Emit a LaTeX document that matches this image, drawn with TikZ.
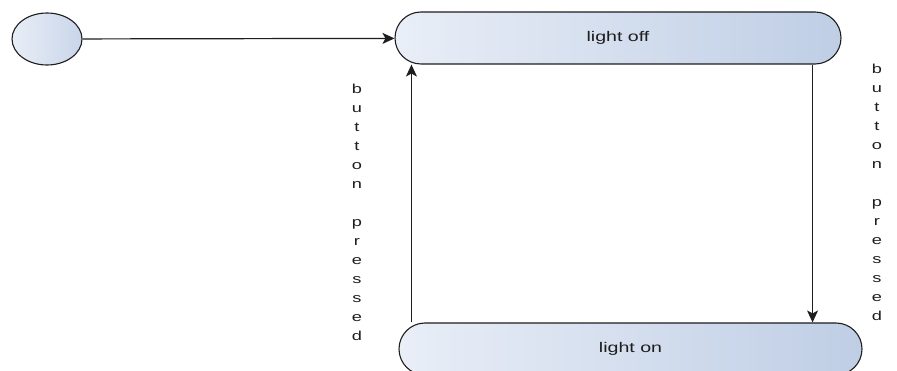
\documentclass[tikz,border=0pt]{standalone}
\usepackage{fontspec}
\newfontfamily\diafont[FakeStretch=1.4]{Liberation Sans}
\usetikzlibrary{shapes.geometric,arrows.meta}
\definecolor{stateleft}{HTML}{E9EEF7}
\definecolor{stateright}{HTML}{BFCEE5}
\definecolor{edgegray}{HTML}{1E1E1E}
\tikzset{
  % stato iniziale (pallino)
  init/.style={ellipse, draw=edgegray, line width=1.1pt,
    left color=stateleft, right color=stateright!85,
    minimum width=70pt, minimum height=52pt, inner sep=0pt},
  % stati (rettangoli arrotondati)
  state/.style={rectangle, rounded corners=26pt, draw=edgegray, line width=1.1pt,
    left color=stateleft, right color=stateright,
    minimum height=52pt, inner sep=0pt,
    font=\diafont\fontsize{14}{14}\selectfont, text=edgegray},
  % etichette verticali
  vlabel/.style={align=center, inner sep=0pt,
    font=\diafont\fontsize{13}{19}\selectfont, text=edgegray},
  arr/.style={-{Stealth[length=12pt,width=11pt,inset=3pt]}, line width=1.2pt, draw=edgegray}
}
\begin{document}
\begin{tikzpicture}[x=1pt,y=-1pt]
  \useasboundingbox[fill=white] (0,0) rectangle (897,371);

  \node[init] (start) at (47,39) {};
  \node[state, minimum width=446pt] (off) at (618,38) {light off};
  \node[state, minimum width=463pt] (on) at (630.5,349) {light on};

  % transizioni
  \draw[arr] (start) -- (off);
  \draw[arr] ([xshift=13pt]on.north west) -- ([xshift=13pt]on.north west |- off.south);
  \draw[arr] ([xshift=-29pt]off.south east) -- ([xshift=-29pt]off.south east |- on.north);

  \node[vlabel] (pressL) at (357,212) {b\\u\\t\\t\\o\\n\\~\\p\\r\\e\\s\\s\\e\\d};
  \node[vlabel] (pressR) at (877,192) {b\\u\\t\\t\\o\\n\\~\\p\\r\\e\\s\\s\\e\\d};
\end{tikzpicture}
\end{document}
